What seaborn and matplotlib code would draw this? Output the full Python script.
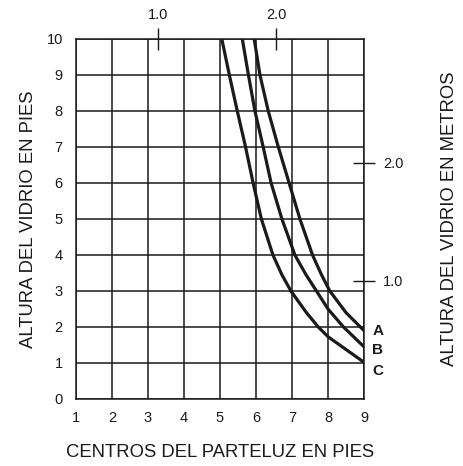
import matplotlib
matplotlib.use("Agg")
import matplotlib.pyplot as plt
import seaborn as sns
import pandas as pd

# ---- data ----
curve_a_x = [5.95, 6.11, 6.34, 6.62, 6.92, 7.22, 7.57, 7.82, 8.05, 8.50, 9.00]
curve_a_y = [10.0, 9.0, 8.0, 7.0, 6.0, 5.0, 4.0, 3.45, 3.0, 2.40, 1.90]
curve_b_x = [5.62, 5.79, 5.97, 6.20, 6.42, 6.72, 7.08, 7.39, 7.68, 8.00, 8.43, 9.00]
curve_b_y = [10.0, 9.0, 8.0, 7.0, 6.0, 5.0, 4.0, 3.45, 3.0, 2.50, 2.0, 1.45]
curve_c_x = [5.05, 5.26, 5.48, 5.71, 5.92, 6.15, 6.47, 6.72, 6.97, 7.40, 7.73, 8.00, 9.00]
curve_c_y = [10.0, 9.0, 8.0, 7.0, 6.0, 5.0, 4.0, 3.45, 3.0, 2.40, 2.0, 1.73, 1.02]
curve_names = ["A", "B", "C"]

x_ticks = [1, 2, 3, 4, 5, 6, 7, 8, 9]
y_ticks = [0, 1, 2, 3, 4, 5, 6, 7, 8, 9, 10]
meter_ticks = [1.0, 2.0]
FT_PER_M = 3.28084

x_label = "CENTROS DEL PARTELUZ EN PIES"
y_label = "ALTURA DEL VIDRIO EN PIES"
y2_label = "ALTURA DEL VIDRIO EN METROS"

frames = []
for name, xs, ys in zip(curve_names, [curve_a_x, curve_b_x, curve_c_x],
                        [curve_a_y, curve_b_y, curve_c_y]):
    frames.append(pd.DataFrame({"x": xs, "y": ys, "curve": name}))
df = pd.concat(frames, ignore_index=True)

sns.set_style("white")
plt.rcParams["font.family"] = ["Liberation Sans", "DejaVu Sans"]

fig = plt.figure(figsize=(4.63, 4.66), dpi=100)
ax = fig.add_axes([76 / 463, 1 - 399 / 466, 288 / 463, 360 / 466])

sns.lineplot(data=df, x="x", y="y", hue="curve", units="curve", estimator=None,
             sort=False, palette=["#1a1a1a"] * 3, linewidth=2.3, legend=False, ax=ax)
for ln in ax.get_lines():
    ln.set_solid_joinstyle("round")

ax.set_xlim(1, 9)
ax.set_ylim(0, 10)
ax.set_xticks(x_ticks)
ax.set_yticks(y_ticks)
ax.set_xticklabels([str(t) for t in x_ticks])
ax.set_yticklabels([str(t) for t in y_ticks])
ax.grid(True, color="#1a1a1a", linewidth=1.1)
ax.set_axisbelow(True)
for s in ax.spines.values():
    s.set_color("#1a1a1a")
    s.set_linewidth(1.1)
ax.tick_params(axis="x", length=0, pad=8.5, labelsize=10.5, colors="#1a1a1a")
ax.tick_params(axis="y", length=0, pad=9.5, labelsize=10.5, colors="#1a1a1a")

ax.set_xlabel(x_label, fontsize=13.3, color="#1a1a1a", labelpad=14)
ax.set_ylabel(y_label, fontsize=13.3, color="#1a1a1a", labelpad=7)

# secondary (metre) axes
f2m = lambda v: v / FT_PER_M
m2f = lambda v: v * FT_PER_M
secx = ax.secondary_xaxis("top", functions=(f2m, m2f))
secx.set_xticks(meter_ticks)
secx.set_xticklabels([f"{t:.1f}" for t in meter_ticks])
secx.tick_params(direction="inout", length=16.5, width=1.0, pad=4, labelsize=10.5,
                 colors="#1a1a1a")
secx.spines["top"].set_visible(False)

secy = ax.secondary_yaxis("right", functions=(f2m, m2f))
secy.set_yticks(meter_ticks)
secy.set_yticklabels([f"{t:.1f}" for t in meter_ticks])
secy.tick_params(direction="inout", length=16, width=1.0, pad=5.5, labelsize=10.5,
                 colors="#1a1a1a")
secy.spines["right"].set_visible(False)
secy.set_ylabel(y2_label, fontsize=13.3, color="#1a1a1a", labelpad=27)

# curve end labels
for name, xs, ys, dy in zip(curve_names, [curve_a_x, curve_b_x, curve_c_x],
                            [curve_a_y, curve_b_y, curve_c_y], [0.0, -0.1, -0.25]):
    ax.annotate(name, xy=(xs[-1], ys[-1] + dy), xytext=(6, 0), textcoords="offset points",
                ha="left", va="center", fontsize=11, fontweight="bold", color="#1a1a1a",
                annotation_clip=False)

fig.savefig("out.png", dpi=100)
